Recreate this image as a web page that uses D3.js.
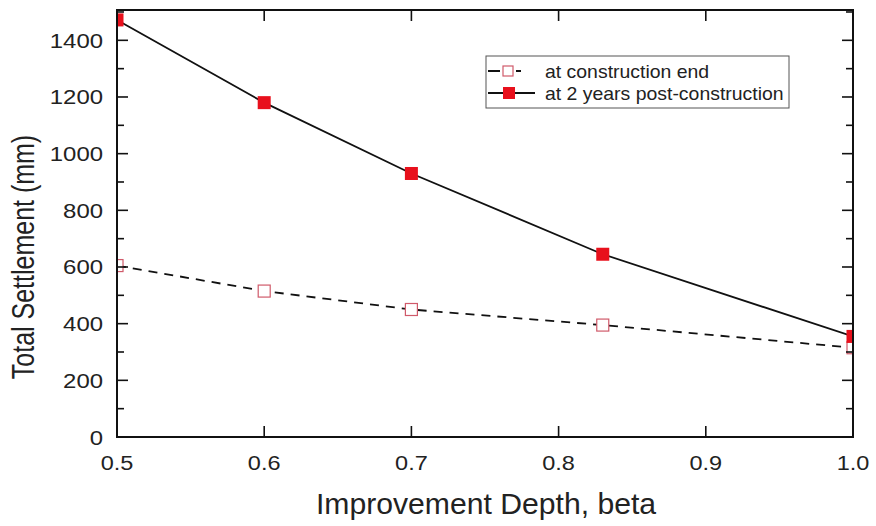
<!DOCTYPE html>
<html>
<head>
<meta charset="utf-8">
<script src="https://cdn.jsdelivr.net/npm/d3@7"></script>
<style>
  body { margin: 0; background: #fff; }
  text { font-family: "Liberation Sans", Arial, sans-serif; fill: #222; }
</style>
</head>
<body>
<svg width="876" height="526"></svg>
<script>
// data
const beta = [0.5, 0.6, 0.7, 0.83, 1.0];
const atEnd = [605, 515, 450, 395, 315];
const at2Years = [1472, 1180, 930, 645, 355];
const xTicks = [0.5, 0.6, 0.7, 0.8, 0.9, 1.0];
const yTicks = [0, 200, 400, 600, 800, 1000, 1200, 1400];
const yMinor = [100, 300, 500, 700, 900, 1100, 1300, 1500];

const svg = d3.select("svg");
const plotL = 117, plotR = 853, plotT = 10, plotB = 437;

const x = d3.scaleLinear().domain([0.5, 1.0]).range([plotL, plotR]);
const y = d3.scaleLinear().domain([0, 1507]).range([plotB, plotT]);

// the source picture is a bit stretched sideways, so text gets a scaleX
function label(px, py, str, size, sx, anchor) {
  return svg.append("text")
    .attr("transform", `translate(${px},${py}) scale(${sx},1)`)
    .attr("text-anchor", anchor || "start")
    .attr("font-size", size)
    .text(str);
}

svg.append("clipPath").attr("id", "plot")
  .append("rect").attr("x", plotL).attr("y", plotT)
  .attr("width", plotR - plotL).attr("height", plotB - plotT);

const g = svg.append("g").attr("clip-path", "url(#plot)");

const line = d3.line().x(d => x(d[0])).y(d => y(d[1]));

// dashed series
g.append("path")
  .datum(d3.zip(beta, atEnd))
  .attr("d", line)
  .attr("fill", "none").attr("stroke", "#111").attr("stroke-width", 1.8)
  .attr("stroke-dasharray", "9,7");

// solid series
g.append("path")
  .datum(d3.zip(beta, at2Years))
  .attr("d", line)
  .attr("fill", "none").attr("stroke", "#111").attr("stroke-width", 1.8);

g.selectAll("rect.open")
  .data(d3.zip(beta, atEnd))
  .enter().append("rect").attr("class", "open")
  .attr("x", d => x(d[0]) - 6).attr("y", d => y(d[1]) - 6)
  .attr("width", 12).attr("height", 12)
  .attr("fill", "#fff").attr("stroke", "#d05a6a").attr("stroke-width", 1.2);

g.selectAll("rect.filled")
  .data(d3.zip(beta, at2Years))
  .enter().append("rect").attr("class", "filled")
  .attr("x", d => x(d[0]) - 6.5).attr("y", d => y(d[1]) - 6.5)
  .attr("width", 13).attr("height", 13)
  .attr("fill", "#e8101c");

// axes frame
const axisColor = "#111";
svg.append("rect")
  .attr("x", plotL).attr("y", plotT)
  .attr("width", plotR - plotL).attr("height", plotB - plotT)
  .attr("fill", "none").attr("stroke", axisColor).attr("stroke-width", 2);

const tickG = svg.append("g").attr("stroke", axisColor).attr("stroke-width", 1.6);

// x ticks, inward, top and bottom
xTicks.forEach(t => {
  tickG.append("line").attr("x1", x(t)).attr("x2", x(t)).attr("y1", plotB).attr("y2", plotB - 11);
  tickG.append("line").attr("x1", x(t)).attr("x2", x(t)).attr("y1", plotT).attr("y2", plotT + 11);
});
// y ticks, inward, left and right
yTicks.forEach(t => {
  tickG.append("line").attr("x1", plotL).attr("x2", plotL + 11).attr("y1", y(t)).attr("y2", y(t));
  tickG.append("line").attr("x1", plotR).attr("x2", plotR - 11).attr("y1", y(t)).attr("y2", y(t));
});
yMinor.forEach(t => {
  tickG.append("line").attr("x1", plotL).attr("x2", plotL + 7).attr("y1", y(t)).attr("y2", y(t));
  tickG.append("line").attr("x1", plotR).attr("x2", plotR - 7).attr("y1", y(t)).attr("y2", y(t));
});

// tick labels
xTicks.forEach(t => label(x(t), 470, t.toFixed(1), 21, 1.12, "middle"));
yTicks.forEach(t => label(103, y(t) + 7.5, String(t), 21, 1.14, "end"));

// axis titles
label(486, 514, "Improvement Depth, beta", 29, 1.04, "middle");

svg.append("text")
  .attr("transform", "translate(34,257) scale(1.25,1) rotate(-90)")
  .attr("text-anchor", "middle").attr("font-size", 25)
  .text("Total Settlement (mm)");

// legend
const lg = svg.append("g");
lg.append("rect").attr("x", 486).attr("y", 56).attr("width", 303).attr("height", 52)
  .attr("fill", "#fff").attr("stroke", "#555").attr("stroke-width", 1);

const legendItems = [
  { label: "at construction end", open: true, yy: 71 },
  { label: "at 2 years post-construction", open: false, yy: 93 }
];
legendItems.forEach(it => {
  const l = lg.append("line").attr("x1", 488).attr("x2", 535).attr("y1", it.yy).attr("y2", it.yy)
    .attr("stroke", "#111").attr("stroke-width", 1.8);
  if (it.open) {
    l.attr("stroke-dasharray", "12,4,0,12,5,20");
    lg.append("rect").attr("x", 503).attr("y", it.yy - 5).attr("width", 10).attr("height", 10)
      .attr("fill", "#fff").attr("stroke", "#d05a6a").attr("stroke-width", 1.2);
  } else {
    lg.append("rect").attr("x", 503).attr("y", it.yy - 6).attr("width", 12).attr("height", 12)
      .attr("fill", "#e8101c");
  }
  lg.append("text")
    .attr("transform", `translate(545,${it.yy + 6.5}) scale(1.08,1)`)
    .attr("font-size", 18).text(it.label);
});
</script>
</body>
</html>
